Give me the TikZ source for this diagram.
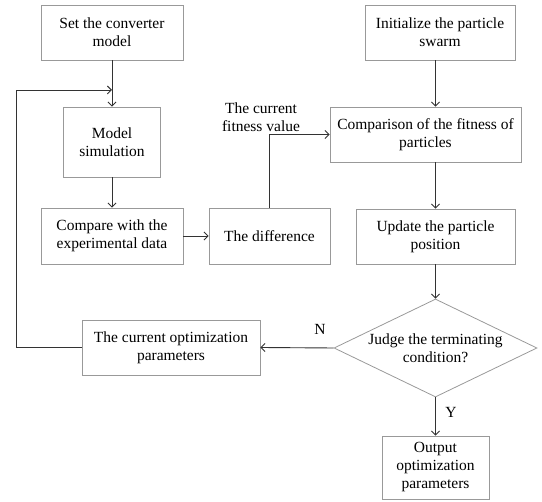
\documentclass[tikz,border=0pt]{standalone}
\usepackage{fontspec}
\setmainfont{Liberation Serif}
\usetikzlibrary{arrows.meta,shapes.geometric}
\begin{document}
\begin{tikzpicture}[x=1pt,y=-1pt,
  box/.style={draw=black!40,line width=0.8pt,rectangle,align=center,inner sep=0pt,
    font=\fontsize{15.5}{18}\selectfont},
  dec/.style={draw=black!40,line width=0.8pt,diamond,aspect=2.07,inner sep=0pt,align=center,
    minimum width=203pt,minimum height=98pt,font=\fontsize{15.5}{18}\selectfont},
  conn/.style={draw=black!80,line width=0.9pt},
  arr/.style={conn,-{Straight Barb[length=4pt,width=8pt]}},
  lbl/.style={align=center,font=\fontsize{15.5}{18}\selectfont}]
\useasboundingbox (0,0) rectangle (542,502);
\node[box,minimum width=142pt,minimum height=55pt] (set) at (112,32.5) {Set the converter\\model};
\node[box,minimum width=97pt,minimum height=70pt] (sim) at (112,142) {Model\\simulation};
\node[box,minimum width=142pt,minimum height=56pt] (cmp) at (112,236) {Compare with the\\experimental data};
\node[box,minimum width=121pt,minimum height=56pt] (diff) at (269.5,236) {The difference};
\node[box,minimum width=150pt,minimum height=55pt] (init) at (440,32.5) {Initialize the particle\\swarm};
\node[box,minimum width=191pt,minimum height=55pt] (fit) at (425.5,134.5) {Comparison of the fitness of\\particles};
\node[box,minimum width=159pt,minimum height=55pt] (upd) at (435.5,236.5) {Update the particle\\position};
\node[dec] (dia) at (435.5,348) {Judge the terminating\\condition?};
\node[box,minimum width=178pt,minimum height=55pt] (cur) at (171,347.5) {The current optimization\\parameters};
\node[box,minimum width=107pt,minimum height=63pt] (out) at (435.5,467.5) {Output\\optimization\\parameters};
\coordinate (loopc) at (16,90);
\node[lbl] (fv) at (261,117) {The current\\fitness value};
\node[lbl] (nl) at (320,329) {N};
\node[lbl] (yl) at (451,412) {Y};
\draw[arr] (set.south) -- (sim.north);
\draw[arr] (sim.south) -- (cmp.north);
\draw[arr] (cmp.east) -- (diff.west);
\draw[arr] (diff.north) |- (fit.west);
\draw[arr] (init.south -| dia.north) -- (fit.north -| dia.north);
\draw[arr] (fit.south -| dia.north) -- (upd.north -| dia.north);
\draw[arr] (upd.south -| dia.north) -- (dia.north);
\draw[arr] (dia.west) -- (cur.east);
\draw[arr] (dia.south) -- (out.north);
\draw[arr] (cur.west) -| (loopc) -- (loopc -| set.south);
\end{tikzpicture}
\end{document}
